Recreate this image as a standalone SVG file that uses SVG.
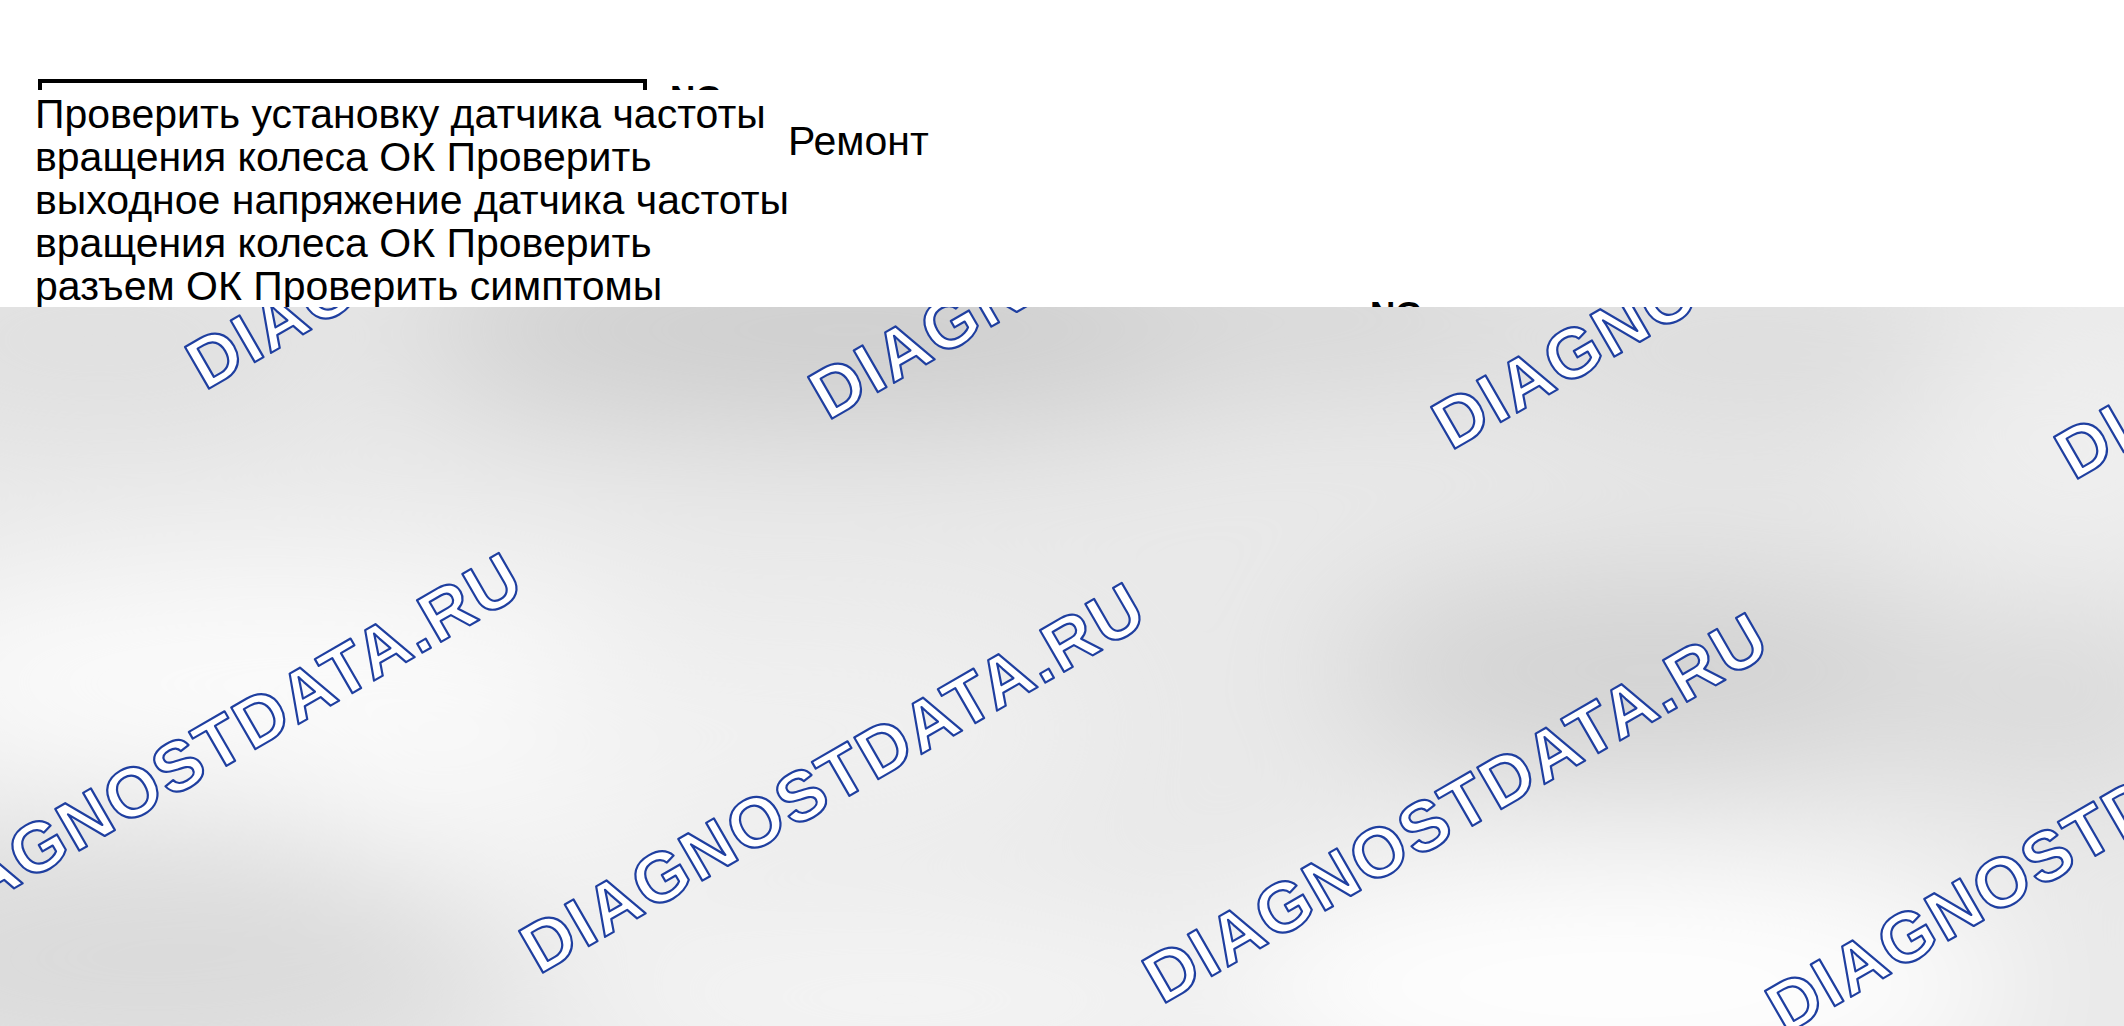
<svg xmlns="http://www.w3.org/2000/svg" width="2124" height="1026" viewBox="0 0 2124 1026">
<defs>
<style>
.t{font-family:"Liberation Sans",Arial,sans-serif;font-size:41px;fill:#000}
.lbl{font-family:"Liberation Sans",Arial,sans-serif;font-size:35px;font-weight:bold;fill:#000}
.wm{font-family:"Liberation Sans",Arial,sans-serif;font-size:70px;font-weight:bold;fill:#fff;stroke:#1f3fa0;stroke-width:2.2;stroke-linejoin:round}
</style>
<clipPath id="band"><rect x="0" y="307" width="2124" height="719"/></clipPath>
<filter id="soft" x="-30%" y="-80%" width="160%" height="260%"><feGaussianBlur stdDeviation="70"/></filter>
</defs>
<rect width="2124" height="1026" fill="#fff"/>
<g id="node-check">
<rect x="40" y="81" width="605" height="230" fill="none" stroke="#000" stroke-width="4"/>
</g>
<g id="connectors">
<text class="lbl" x="670" y="110">NG</text>
<text class="lbl" x="1370" y="326">NG</text>
</g>
<g id="node-check-text">
<rect x="0" y="90" width="1000" height="217" fill="#fff"/>
<text class="t" x="35" y="128">Проверить установку датчика частоты</text>
<text class="t" x="35" y="171">вращения колеса ОК Проверить</text>
<text class="t" x="35" y="214">выходное напряжение датчика частоты</text>
<text class="t" x="35" y="257">вращения колеса ОК Проверить</text>
<text class="t" x="35" y="300">разъем ОК Проверить симптомы</text>
</g>
<g id="node-repair">
<text class="t" x="788" y="155">Ремонт</text>
</g>
<g id="watermark-band" clip-path="url(#band)">
<rect x="0" y="307" width="2124" height="719" fill="#e9e9e9"/>
<g filter="url(#soft)">
<ellipse cx="100" cy="340" rx="250" ry="80" fill="#dedede"/>
<ellipse cx="850" cy="330" rx="450" ry="100" fill="#cdcdcd"/>
<ellipse cx="1330" cy="320" rx="220" ry="60" fill="#d2d2d2"/>
<ellipse cx="1750" cy="350" rx="250" ry="80" fill="#dbdbdb"/>
<ellipse cx="1650" cy="670" rx="320" ry="100" fill="#d2d2d2"/>
<ellipse cx="2060" cy="700" rx="160" ry="80" fill="#d8d8d8"/>
<ellipse cx="150" cy="960" rx="350" ry="120" fill="#dadada"/>
<ellipse cx="280" cy="680" rx="420" ry="120" fill="#fbfbfb"/>
<ellipse cx="520" cy="800" rx="220" ry="90" fill="#f8f8f8"/>
<ellipse cx="800" cy="730" rx="300" ry="100" fill="#f1f1f1"/>
<ellipse cx="1620" cy="985" rx="400" ry="120" fill="#ffffff"/>
<ellipse cx="900" cy="1000" rx="350" ry="80" fill="#f6f6f6"/>
<ellipse cx="2080" cy="450" rx="180" ry="120" fill="#efefef"/>
</g>
<text class="wm" textLength="705" lengthAdjust="spacing" transform="translate(205,391) rotate(-30)">DIAGNOSTDATA.RU</text>
<text class="wm" textLength="705" lengthAdjust="spacing" transform="translate(828,421) rotate(-30)">DIAGNOSTDATA.RU</text>
<text class="wm" textLength="705" lengthAdjust="spacing" transform="translate(1451,451) rotate(-30)">DIAGNOSTDATA.RU</text>
<text class="wm" textLength="705" lengthAdjust="spacing" transform="translate(2074,481) rotate(-30)">DIAGNOSTDATA.RU</text>
<text class="wm" textLength="705" lengthAdjust="spacing" transform="translate(-84,945) rotate(-30)">DIAGNOSTDATA.RU</text>
<text class="wm" textLength="705" lengthAdjust="spacing" transform="translate(539,975) rotate(-30)">DIAGNOSTDATA.RU</text>
<text class="wm" textLength="705" lengthAdjust="spacing" transform="translate(1162,1005) rotate(-30)">DIAGNOSTDATA.RU</text>
<text class="wm" textLength="705" lengthAdjust="spacing" transform="translate(1785,1035) rotate(-30)">DIAGNOSTDATA.RU</text>
</g>
</svg>
